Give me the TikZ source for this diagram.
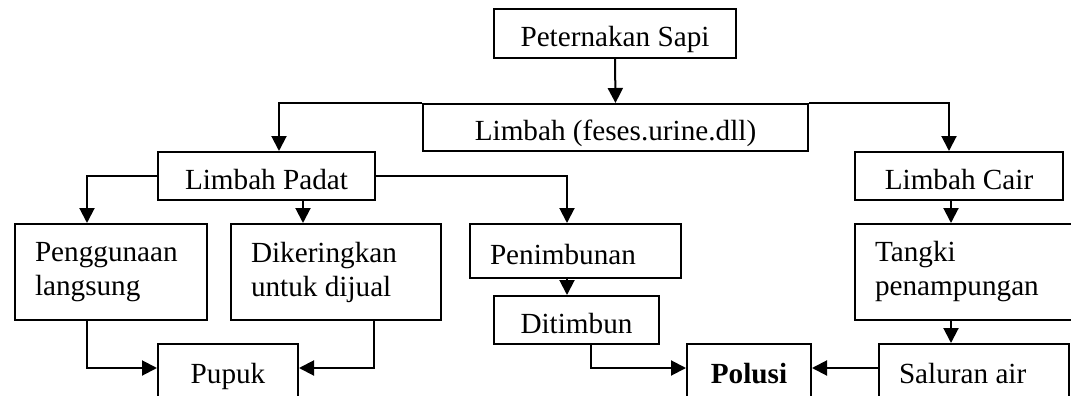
\documentclass[tikz,border=0pt]{standalone}
\usepackage{fontspec}
\setmainfont{Liberation Serif}
\usepackage{tikz}
\usetikzlibrary{arrows.meta, positioning, calc}

\begin{document}
\begin{tikzpicture}[x=0.5pt, y=-0.5pt,
    font=\fontsize{14.6}{17}\selectfont,
    box/.style={draw, line width=1pt, inner sep=0pt, anchor=north west},
    oneline/.style={text height=13pt, text depth=0pt},
    lefttxt/.style={align=flush left, inner xsep=10pt, text width=#1},
    arr/.style={-{Triangle[length=7.5pt, width=7.5pt]}, line width=1pt}]
  %% page frame, the lowest boxes run off the bottom edge
  \useasboundingbox (0,0) rectangle (1071,396);
  \clip (0,0) rectangle (1071,396);

  %% top level
  \node[box, oneline, minimum width=121pt, minimum height=24.5pt] (sapi) at (493,8) {Peternakan Sapi};
  \node[box, oneline, minimum width=192.5pt, minimum height=23.5pt] (limbah) at (422,103) {Limbah (feses.urine.dll)};

  %% solid and liquid waste
  \node[box, oneline, minimum width=108.5pt, minimum height=24pt] (padat) at (157,151) {Limbah Padat};
  \node[box, oneline, minimum width=104pt, minimum height=24pt] (cair) at (854,151) {Limbah Cair};

  %% treatment
  \node[box, lefttxt=76pt, minimum height=48pt] (guna) at (14,223) {Penggunaan\\langsung};
  \node[box, lefttxt=85pt, minimum height=48pt] (kering) at (230,223) {Dikeringkan\\untuk dijual};
  \node[box, oneline, lefttxt=85.5pt, minimum height=27pt] (timbun) at (469,223) {Penimbunan};
  \node[box, oneline, minimum width=82.5pt, minimum height=24pt] (ditimbun) at (493,295) {Ditimbun};
  \node[box, lefttxt=95.5pt, minimum height=48pt] (tangki) at (854,223) {Tangki\\penampungan};

  %% results
  \node[box, oneline, text height=9pt, minimum width=70pt, minimum height=30pt] (pupuk) at (157,343) {Pupuk};
  \node[box, oneline, text height=9pt, minimum width=62pt, minimum height=30pt] (polusi) at (686,343) {\textbf{Polusi}};
  \node[box, oneline, text height=9pt, lefttxt=75pt, minimum height=30pt] (saluran) at (878,343) {Saluran air};

  %% connectors
  \draw[arr] (sapi.south) -- (limbah.north);
  \draw[arr] (limbah.north west) -| ([xshift=6.25pt]padat.north);
  \draw[arr] (limbah.north east) -| ([xshift=-5pt]cair.north);
  \draw[arr] (padat.west) -| ([xshift=-12pt]guna.north);
  \draw[arr] ([xshift=18.25pt]padat.south) coordinate (ps) -- (ps |- kering.north);
  \draw[arr] (padat.east) -| ([xshift=-4.25pt]timbun.north);
  \draw[arr] ([xshift=-4.25pt]timbun.south) coordinate (ts) -- (ts |- ditimbun.north);
  \draw[arr] ([xshift=-12pt]guna.south) |- ([yshift=3pt]pupuk.west);
  \draw[arr] ([xshift=19pt]kering.south) |- ([yshift=3pt]pupuk.east);
  \draw[arr] ([xshift=7.25pt]ditimbun.south) |- ([yshift=3pt]polusi.west);
  \draw[arr] ([xshift=-4pt]cair.south) coordinate (cs) -- (cs |- tangki.north);
  \draw[arr] (cs |- tangki.south) -- (cs |- saluran.north);
  \draw[arr] ([yshift=3pt]saluran.west) -- ([yshift=3pt]polusi.east);
\end{tikzpicture}
\end{document}
